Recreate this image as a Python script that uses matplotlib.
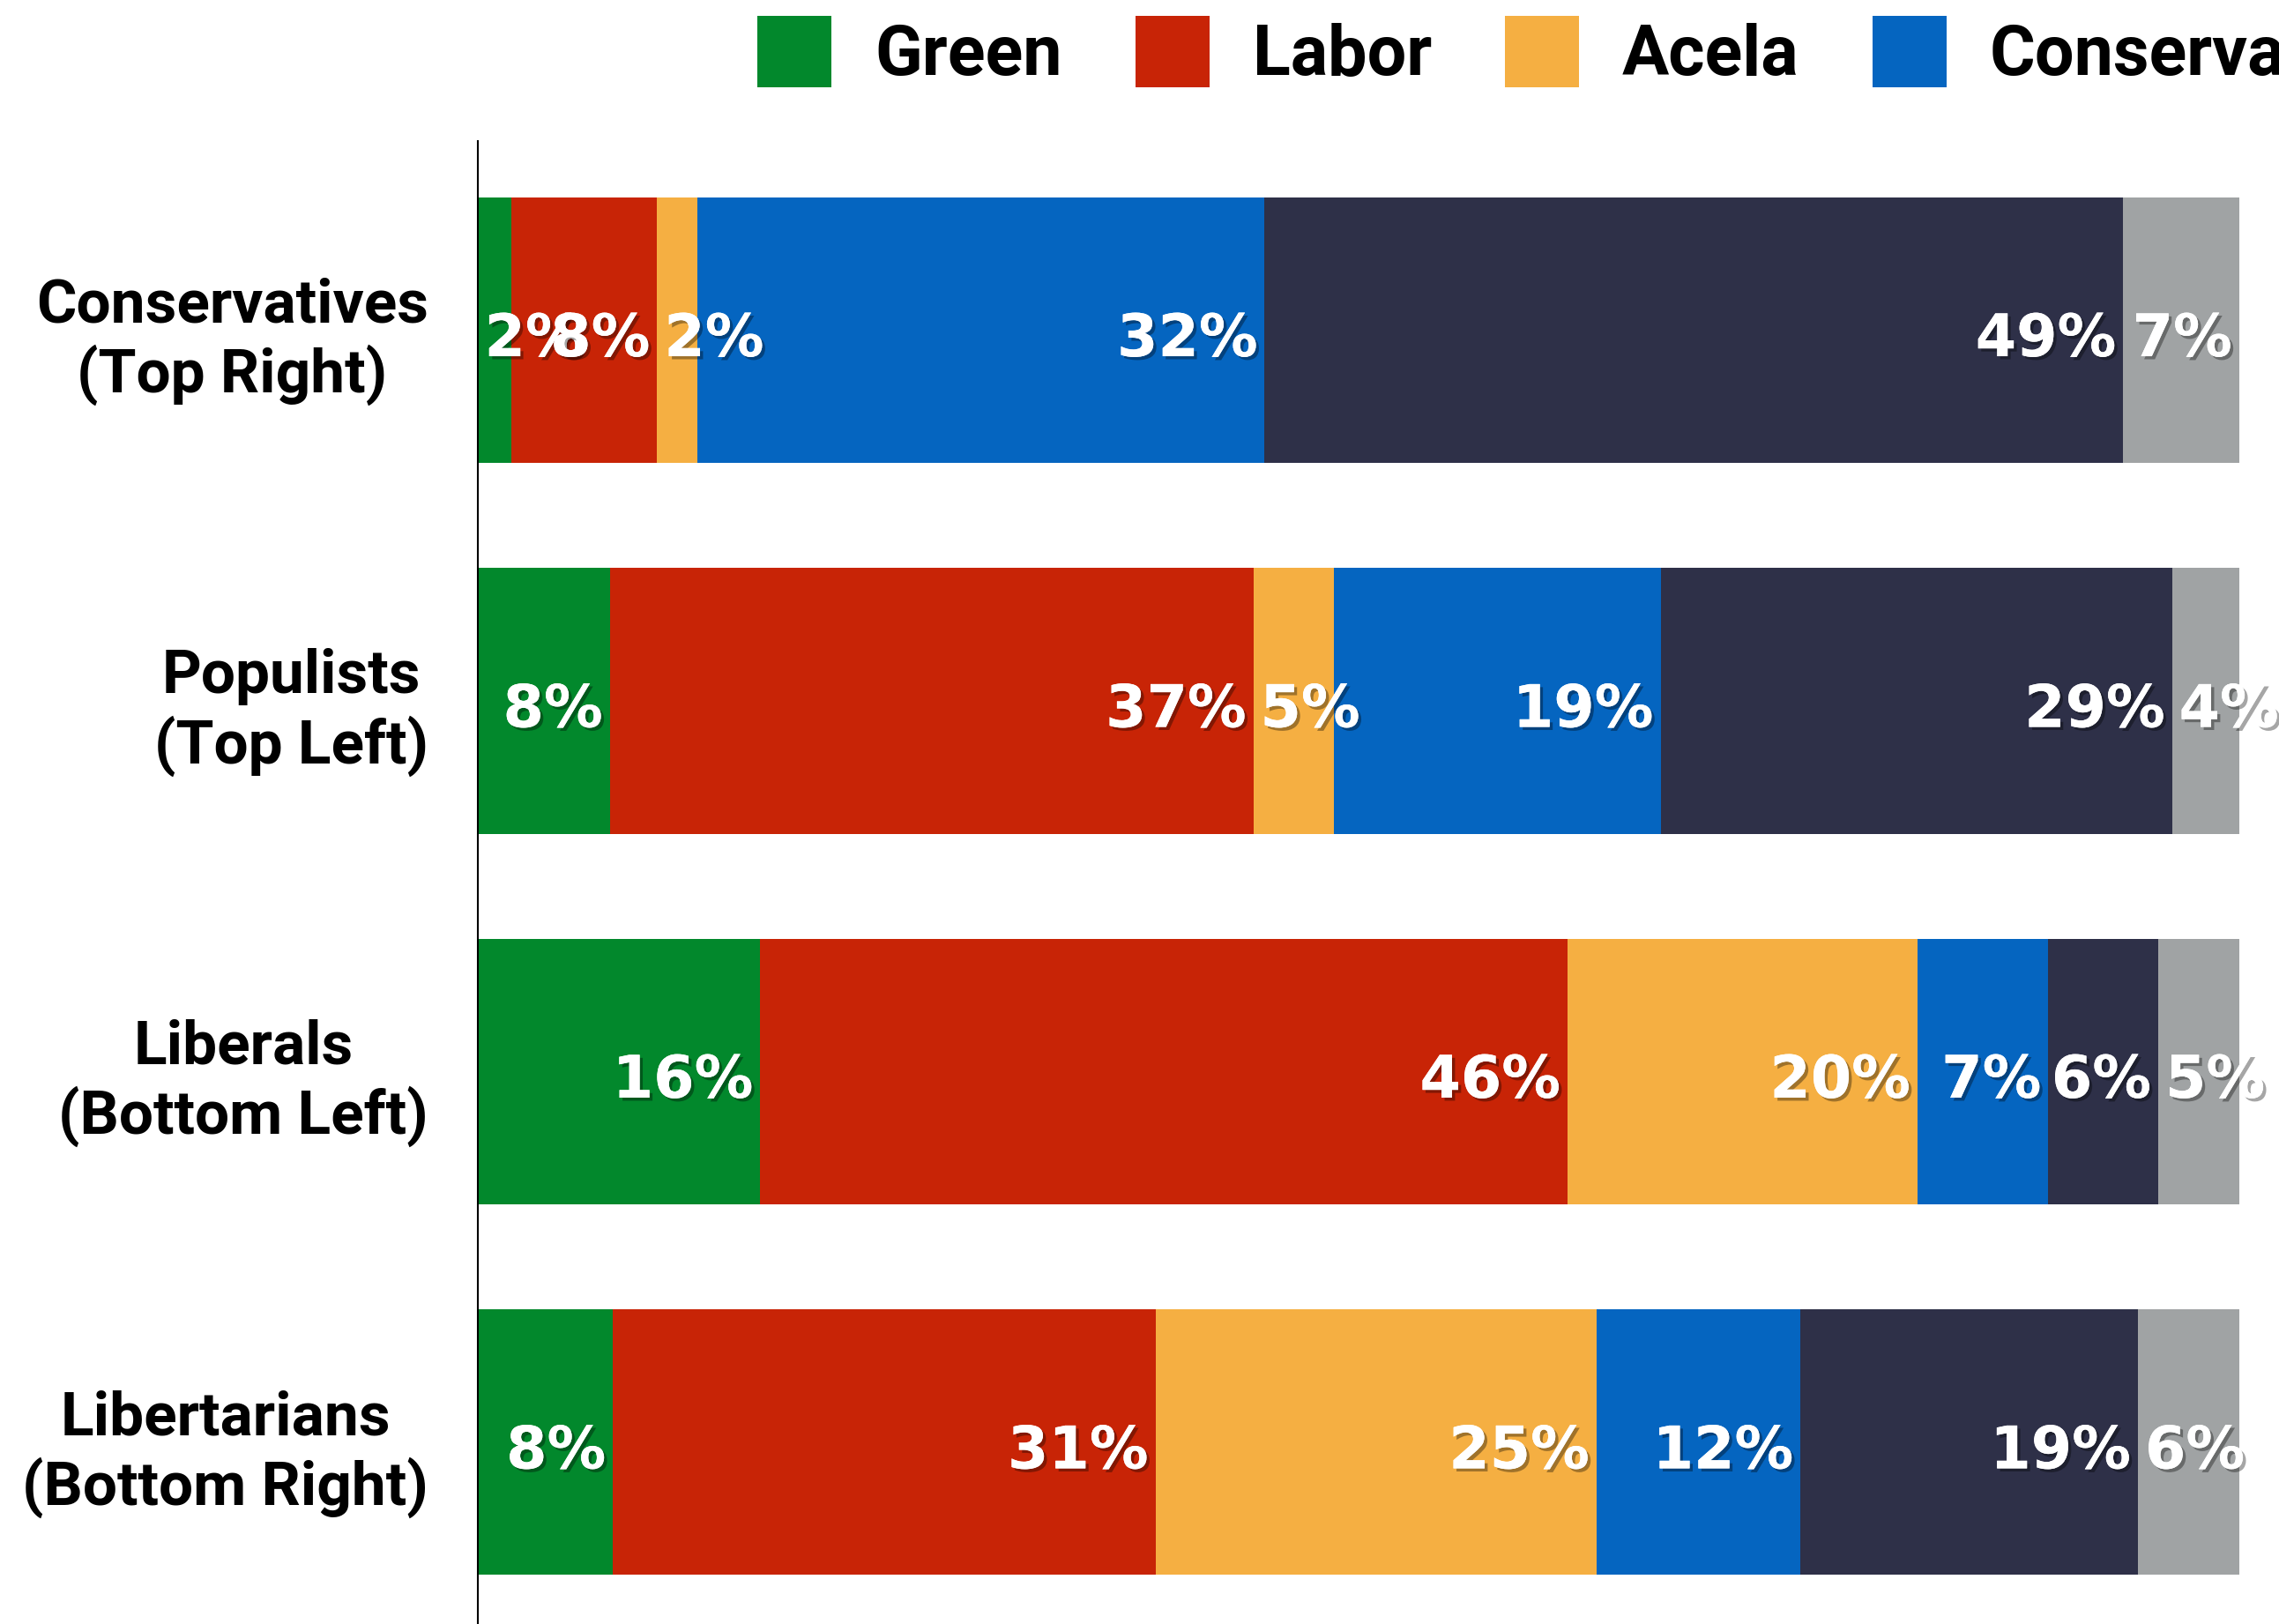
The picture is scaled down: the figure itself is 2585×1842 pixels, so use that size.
import matplotlib.pyplot as plt
import matplotlib.patheffects as pe
import numpy as np

# respondent groups (rows, top to bottom)
groups = ['Conservatives\n(Top Right)', 'Populists\n(Top Left)',
          'Liberals\n(Bottom Left)', 'Libertarians\n(Bottom Right)']

# party support per group, in percent
parties = ['Green', 'Labor', 'Acela', 'Conservative', 'Reform', 'Other']
green = [1.95, 7.53, 16.09, 7.7]
labor = [8.27, 36.6, 45.9, 30.83]
acela = [2.27, 4.6, 19.9, 25.06]
conservative = [32.28, 18.57, 7.45, 11.6]
reform = [48.83, 29.09, 6.25, 19.18]
other = [6.6, 3.82, 4.6, 5.75]

colors = ['#02882C', '#C82406', '#F5AF42', '#0565C0', '#2E3048', '#A0A3A4']

values = np.array([green, labor, acela, conservative, reform, other])
widths = values / values.sum(axis=0) * 100

fig = plt.figure(figsize=(25.85, 18.42), dpi=100)
ax = fig.add_axes([0.2095, 0.0, 0.773, 0.9131])

y = np.arange(len(groups))
left = np.zeros(len(groups))
handles = []
for name, w, color in zip(parties, widths, colors):
    bars = ax.barh(y, w, left=left, height=0.716, color=color,
                   linewidth=0, label=name)
    handles.append(bars)
    left = left + w

ax.set_xlim(0, 100)
ax.set_ylim(3.49, -0.51)
ax.set_xticks([])
ax.set_yticks(y)
ax.set_yticklabels(groups, fontsize=50, fontweight='bold', family='Roboto',
                   multialignment='center')
ax.tick_params(axis='y', length=0, pad=40)
for side in ['top', 'right', 'bottom']:
    ax.spines[side].set_visible(False)
ax.spines['left'].set_linewidth(1.5)
ax.spines['left'].set_color('black')

# percentage labels with a soft shadow
shadow = [pe.withSimplePatchShadow(offset=(2.5, -2.5), shadow_rgbFace='black',
                                   alpha=0.35), pe.Normal()]
renderer = fig.canvas.get_renderer()
pad = 8
left = np.zeros(len(groups))
for vals, w in zip(values, widths):
    for i in range(len(groups)):
        x0, x1 = left[i], left[i] + w[i]
        px0 = ax.transData.transform((x0, 0))[0]
        px1 = ax.transData.transform((x1, 0))[0]
        t = ax.text(x1, y[i] + 0.025, f'{vals[i]:.0f}%', ha='right',
                    va='center', fontsize=48, fontweight='bold',
                    color='white', family='DejaVu Sans',
                    path_effects=shadow, clip_on=False)
        tw = t.get_window_extent(renderer).width
        if tw + pad > px1 - px0:
            t.set_x(ax.transData.inverted().transform((px0 + pad, 0))[0])
            t.set_ha('left')
        else:
            t.set_x(ax.transData.inverted().transform((px1 - pad, 0))[0])
    left = left + w

fig.legend(handles=handles, labels=parties, loc='center left',
           bbox_to_anchor=(0.3323, 0.9675), ncol=6, frameon=False,
           prop={'family': 'Roboto', 'weight': 'bold', 'size': 57},
           handlelength=1.06, handleheight=1.19, handletextpad=0.62,
           columnspacing=1.05, borderpad=0, borderaxespad=0)

fig.savefig('out.png', dpi=100)
